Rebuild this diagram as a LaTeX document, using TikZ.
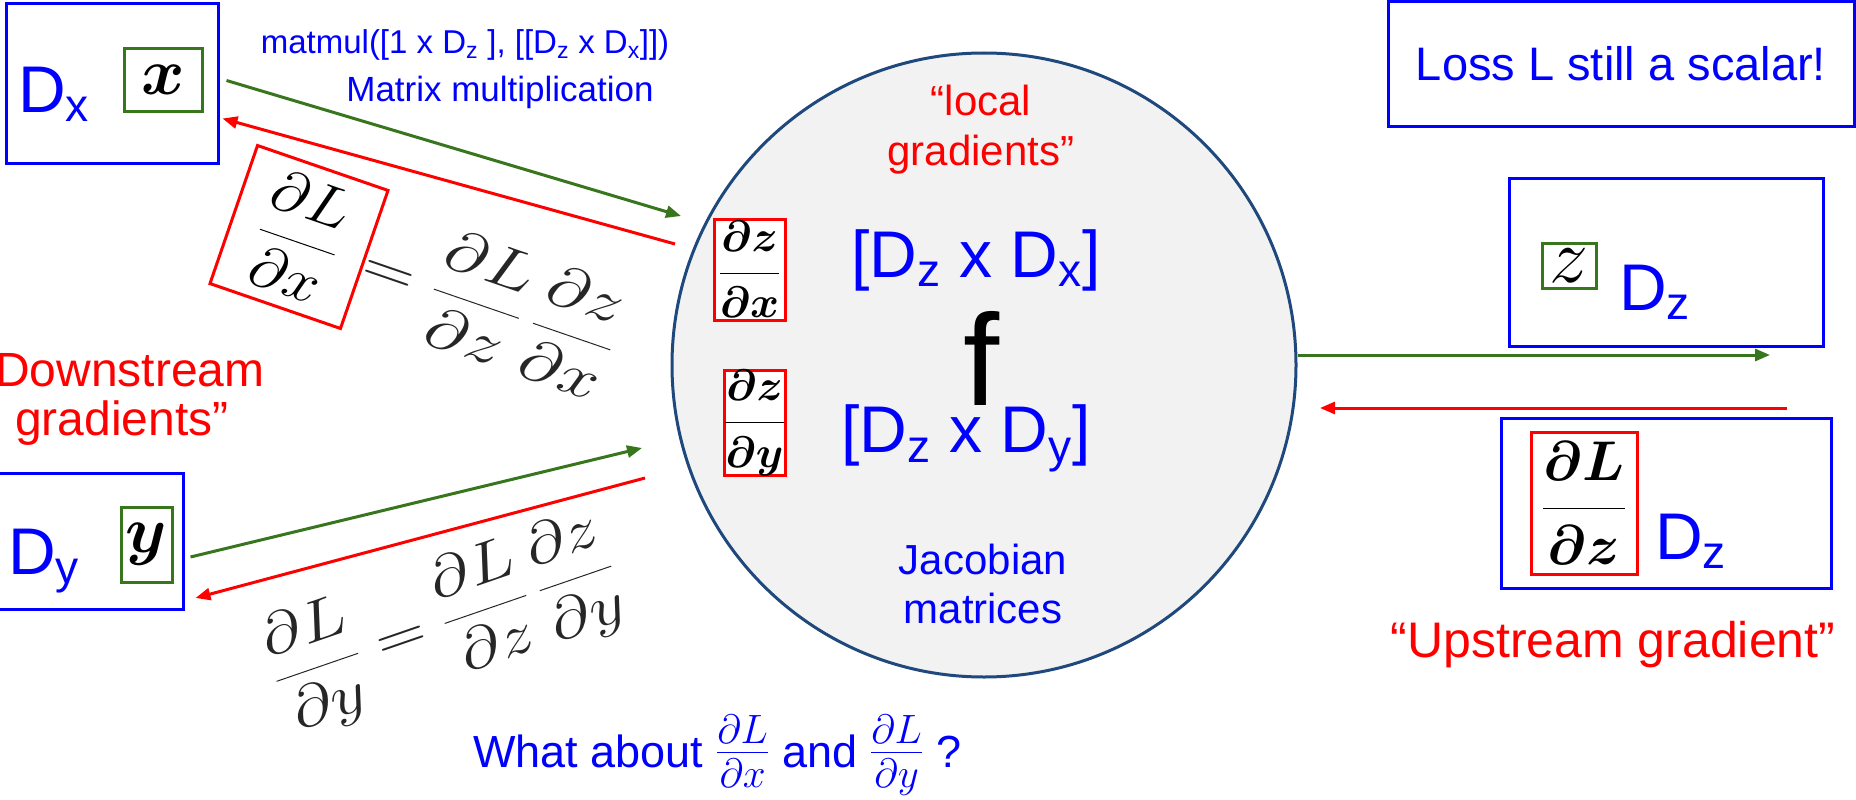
\RequirePackage{fix-cm}
\documentclass[tikz,border=0pt]{standalone}
\usepackage{amsmath}
\usepackage{graphicx}
\usepackage{fontspec}
\setmainfont{Liberation Sans}
\usetikzlibrary{arrows.meta,positioning,calc}
\definecolor{dimblue}{RGB}{0,0,255}
\definecolor{gradred}{RGB}{255,0,0}
\definecolor{fwdgreen}{RGB}{56,118,29}
\definecolor{ringblue}{RGB}{31,73,125}
\definecolor{ringfill}{RGB}{242,242,242}
\newcommand{\fsz}[1]{\fontsize{#1}{#1}\selectfont}

\begin{document}
\begin{tikzpicture}[x=1pt,y=-1pt,
    outer/.style={draw=dimblue, line width=3pt, inner sep=0pt},
    varbox/.style={draw=fwdgreen, line width=3pt, fill=white, inner sep=0pt},
    gradbox/.style={draw=gradred, line width=3pt, fill=white, inner sep=0pt},
    bluetxt/.style={text=dimblue, inner sep=0pt, align=center},
    redtxt/.style={text=gradred, inner sep=0pt, align=center},
    chain/.style={inner sep=0pt, text=black!85},
    fwd/.style={draw=fwdgreen, line width=3pt, -{Triangle[length=15pt,width=12pt]}},
    bwd/.style={draw=gradred, line width=3pt, -{Triangle[length=15pt,width=12pt]}}]
  \fill[white] (0,0) rectangle (1856,800);
  \useasboundingbox (0,0) rectangle (1856,800);

  % the function node
  \node[circle, draw=ringblue, fill=ringfill, line width=3pt, minimum size=624pt] (fnode) at (984,365) {};
  \node[redtxt, font=\fontsize{42}{50}\selectfont] (local) at (981,130) {“local\\gradients”};
  \node[gradbox, minimum width=71pt, minimum height=101pt] (dzdx) at (749.5,269.5) {\fsz{44}$\displaystyle\boldsymbol{\frac{\partial z}{\partial x}}$};
  \node[bluetxt] (jacx) at (976,260) {\fsz{66}[D\textsubscript{z} x D\textsubscript{x}]};
  \node[inner sep=0pt] (flbl) at (982,358) {\fsz{130}f};
  \node[gradbox, minimum width=61pt, minimum height=100pt] (dzdy) at (754.5,423) {\fsz{44}$\displaystyle\boldsymbol{\frac{\partial z}{\partial y}}$};
  \node[bluetxt] (jacy) at (966,438) {\fsz{66}[D\textsubscript{z} x D\textsubscript{y}]};
  \node[bluetxt, font=\fontsize{42}{49}\selectfont] (jacobian) at (983,584) {Jacobian\\matrices};

  % inputs
  \node[outer, minimum width=212pt, minimum height=159pt] (dxbox) at (112,83.5) {};
  \node[bluetxt, anchor=base west] (dxdim) at (18,112) {\fsz{66}D\textsubscript{x}};
  \node[varbox, minimum width=78pt, minimum height=62pt] (xvar) at (163,80) {\fsz{66}$\boldsymbol{x}$};
  \node[outer, minimum width=188pt, minimum height=136pt] (dybox) at (89,541) {};
  \node[bluetxt, anchor=base west] (dydim) at (8,574) {\fsz{66}D\textsubscript{y}};
  \node[varbox, minimum width=51pt, minimum height=75pt] (yvar) at (146.5,544.5) {\fsz{66}$\boldsymbol{y}$};
  \node[redtxt, font=\fontsize{48}{49}\selectfont] (downstr) at (122,399) {“Downstream\\gradients”};

  \node[bluetxt] (matmul) at (465,45) {\fsz{33}matmul([1 x D\textsubscript{z} ], [[D\textsubscript{z} x D\textsubscript{x}]])};
  \node[bluetxt] (matmult) at (500,92) {\fsz{35}Matrix multiplication};

  % output
  \node[outer, text=dimblue, minimum width=466pt, minimum height=124pt] (loss) at (1621,64) {\fsz{47}Loss L still a scalar!};
  \node[outer, minimum width=314pt, minimum height=168pt] (zbox) at (1666,262) {};
  \node[varbox, minimum width=54pt, minimum height=45pt] (zvar) at (1569,265.5) {\fsz{78}$z$};
  \node[bluetxt, anchor=base west] (zdim) at (1619,310) {\fsz{66}D\textsubscript{z}};
  \node[outer, minimum width=330pt, minimum height=170pt] (dlbox) at (1666,503) {};
  \node[gradbox, minimum width=106pt, minimum height=142pt] (dldz) at (1584,503) {\fsz{56}$\displaystyle\boldsymbol{\frac{\partial L}{\partial z}}$};
  \node[bluetxt, anchor=base west] (dldim) at (1655,559) {\fsz{66}D\textsubscript{z}};
  \node[redtxt] (upstr) at (1613,645) {\fsz{50}“Upstream gradient”};

  % chain rule
  \node[gradbox, rotate=-19, minimum width=138pt, minimum height=146pt] (dldx) at (299,237) {\fsz{58}\scalebox{1.1}[1]{$\displaystyle\frac{\partial L}{\partial x}$}};
  \node[chain, rotate=-19, anchor=west] (eqx) at (dldx.east) {\fsz{58}\scalebox{1.25}[1]{$\displaystyle{=}\;\frac{\partial L}{\partial z}\,\frac{\partial z}{\partial x}$}};
  \node[chain, rotate=19] (eqy) at (444,624) {\fsz{58}\scalebox{1.2}[1]{$\displaystyle\frac{\partial L}{\partial y}=\frac{\partial L}{\partial z}\,\frac{\partial z}{\partial y}$}};

  \node[bluetxt, anchor=base west] (whatabout) at (473,767) {\fsz{45}What about \scalebox{1.3}{$\frac{\partial L}{\partial x}$} and \scalebox{1.3}{$\frac{\partial L}{\partial y}$} ?};

  \coordinate (xin) at (681,216);
  \coordinate (xback) at (675,244);
  \coordinate (yin) at (642,448);
  \coordinate (yback) at (645,478);
  \coordinate (zout) at (1770,355);
  \coordinate (upin) at (1787,408);
  \coordinate (upout) at (1320,408);

  \draw[fwd] ([shift={(7,-3)}]dxbox.east) -- (xin);
  \draw[bwd] (xback) -- ([shift={(3,35)}]dxbox.east);
  \draw[fwd] ([shift={(6,16)}]dybox.east) -- (yin);
  \draw[bwd] (yback) -- ([shift={(11,57)}]dybox.east);
  \draw[fwd] (fnode.east |- zout) -- (zout);
  \draw[bwd] (upin) -- (upout);
\end{tikzpicture}
\end{document}
